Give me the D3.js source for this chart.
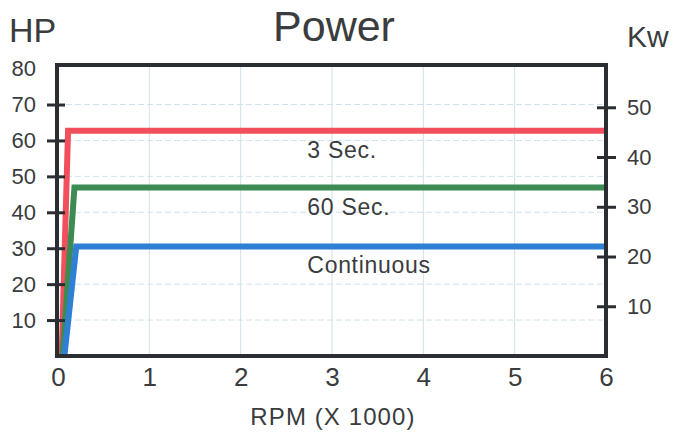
<!DOCTYPE html>
<html>
<head>
<meta charset="utf-8">
<script src="https://cdn.jsdelivr.net/npm/d3@7"></script>
<style>
  body { margin: 0; background: #fff; }
  text { font-family: "Liberation Sans", Arial, sans-serif; fill: #3a3c3e; }
</style>
</head>
<body>
<div id="vis"></div>
<script>
// Colour codes.
const frameColor = "#2a2e33";
const gridColor = "#cfe2ea";

// Chart values.
const rpmTicks = [0, 1, 2, 3, 4, 5, 6];
const hpTicks = [10, 20, 30, 40, 50, 60, 70, 80];
const kwTicks = [10, 20, 30, 40, 50];
const seriesNames = ["3 Sec.", "60 Sec.", "Continuous"];
const seriesColors = ["#f04f5b", "#3b8b52", "#2f7fd5"];
const threeSecRpm = [0.04, 0.11, 6];
const threeSecHp = [0, 62.7, 62.7];
const sixtySecRpm = [0.05, 0.18, 6];
const sixtySecHp = [0, 46.9, 46.9];
const continuousRpm = [0.07, 0.2, 6];
const continuousHp = [0, 30.5, 30.5];

const width = 673, height = 434;
const plot = {left: 57, right: 606, top: 65, bottom: 356};

const svg = d3.select("#vis")
  .append("svg")
    .attr("width", width)
    .attr("height", height);

const x = d3.scaleLinear().domain([0, 6]).range([plot.left + 1, plot.right]);
const y = d3.scaleLinear().domain([0, 81]).range([plot.bottom, plot.top]);
const yKw = d3.scaleLinear().domain([0, 58.5]).range([plot.bottom, plot.top]);

// Gridlines.
svg.append("g")
  .selectAll("line")
  .data(rpmTicks.slice(1, -1))
  .join("line")
    .attr("x1", d => x(d)).attr("x2", d => x(d))
    .attr("y1", plot.top).attr("y2", plot.bottom)
    .attr("stroke", gridColor)
    .attr("stroke-width", 1);

svg.append("g")
  .selectAll("line")
  .data(hpTicks.slice(0, -1))
  .join("line")
    .attr("x1", plot.left).attr("x2", plot.right)
    .attr("y1", d => y(d)).attr("y2", d => y(d))
    .attr("stroke", gridColor)
    .attr("stroke-width", 1)
    .attr("stroke-dasharray", "6,3");

// The lines.
const series = [
  threeSecRpm.map((r, i) => ({rpm: r, hp: threeSecHp[i]})),
  sixtySecRpm.map((r, i) => ({rpm: r, hp: sixtySecHp[i]})),
  continuousRpm.map((r, i) => ({rpm: r, hp: continuousHp[i]}))
];

const line = d3.line()
  .x(d => x(d.rpm))
  .y(d => y(d.hp));

svg.append("g")
  .selectAll("path")
  .data(series)
  .join("path")
    .attr("d", line)
    .attr("fill", "none")
    .attr("stroke", (d, i) => seriesColors[i])
    .attr("stroke-width", 6)
    .attr("stroke-linejoin", "miter");

// Series labels.
svg.append("g")
  .selectAll("text")
  .data(series)
  .join("text")
    .attr("x", x(2.73))
    .attr("y", d => y(d[1].hp) + 27)
    .style("font-size", "23px")
    .style("letter-spacing", "0.7px")
    .text((d, i) => seriesNames[i]);

// Frame.
svg.append("rect")
  .attr("x", plot.left)
  .attr("y", plot.top)
  .attr("width", plot.right - plot.left)
  .attr("height", plot.bottom - plot.top)
  .attr("fill", "none")
  .attr("stroke", frameColor)
  .attr("stroke-width", 4);

// Left axis (HP).
const leftAxis = svg.append("g")
  .attr("transform", "translate(" + plot.left + ",0)")
  .call(d3.axisLeft(y).tickValues(hpTicks).tickSize(10).tickPadding(11));
leftAxis.select(".domain").remove();
leftAxis.selectAll(".tick line")
  .attr("x1", 8)
  .attr("stroke", frameColor)
  .attr("stroke-width", 3)
  .filter(d => d === 80).remove();
leftAxis.selectAll(".tick text")
  .style("font-size", "22px")
  .style("font-family", "Liberation Sans, Arial, sans-serif")
  .attr("fill", "#3a3c3e");

// Right axis (Kw).
const rightAxis = svg.append("g")
  .attr("transform", "translate(" + plot.right + ",0)")
  .call(d3.axisRight(yKw).tickValues(kwTicks).tickSize(10).tickPadding(11));
rightAxis.select(".domain").remove();
rightAxis.selectAll(".tick line")
  .attr("x1", -9)
  .attr("stroke", frameColor)
  .attr("stroke-width", 3);
rightAxis.selectAll(".tick text")
  .style("font-size", "22px")
  .style("font-family", "Liberation Sans, Arial, sans-serif")
  .attr("fill", "#3a3c3e");

// Bottom axis (RPM).
const bottomAxis = svg.append("g")
  .attr("transform", "translate(0," + plot.bottom + ")")
  .call(d3.axisBottom(x).tickValues(rpmTicks).tickFormat(d3.format("d")).tickSize(0).tickPadding(12));
bottomAxis.select(".domain").remove();
bottomAxis.selectAll(".tick text")
  .style("font-size", "26px")
  .style("font-family", "Liberation Sans, Arial, sans-serif")
  .attr("fill", "#3a3c3e");

// Titles.
svg.append("text")
  .attr("x", 334)
  .attr("y", 41)
  .attr("text-anchor", "middle")
  .style("font-size", "43px")
  .text("Power");

svg.append("text")
  .attr("x", 9)
  .attr("y", 42)
  .style("font-size", "34px")
  .text("HP");

svg.append("text")
  .attr("x", 627)
  .attr("y", 47)
  .style("font-size", "30px")
  .text("Kw");

svg.append("text")
  .attr("x", 333)
  .attr("y", 425)
  .attr("text-anchor", "middle")
  .style("font-size", "24px")
  .style("letter-spacing", "1.1px")
  .text("RPM (X 1000)");
</script>
</body>
</html>
